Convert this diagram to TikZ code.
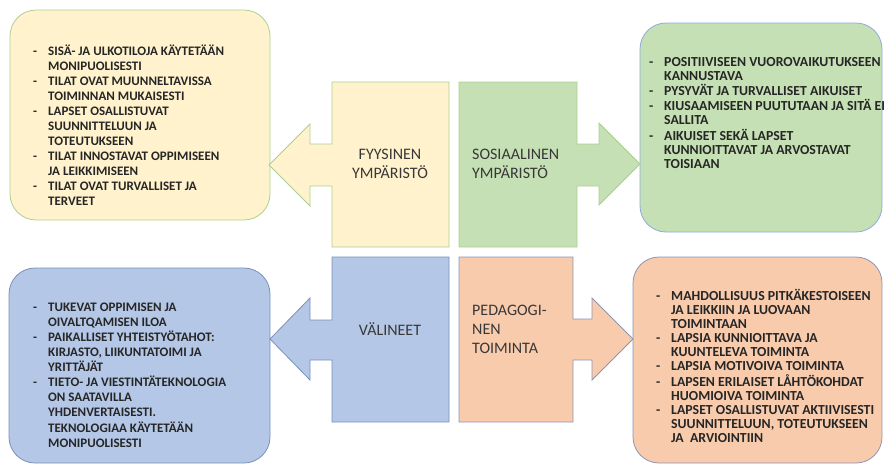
\documentclass[tikz,border=0pt]{standalone}
\usepackage{fontspec}
\setmainfont{Carlito}
\usepackage{array}

\definecolor{ylwfill}{HTML}{FFF2CC}
\definecolor{grnfill}{HTML}{C5E0B4}
\definecolor{blufill}{HTML}{B4C7E7}
\definecolor{orgfill}{HTML}{F8CBAD}
\definecolor{grnline}{HTML}{A9D18E}
\definecolor{bluline}{HTML}{8FAADC}
\definecolor{greyline}{HTML}{8E95B4}

\tikzset{
    part/.style={line width=0.8pt, line join=miter},
    callout/.style={draw, line width=0.8pt, rounded corners=26pt},
    head/.style={inner sep=0pt, text=black!78,
        font=\fontsize{16}{19}\selectfont},
    info/.style={inner sep=0pt, anchor=north west, text=black!85,
        font=\bfseries\fontsize{13}{15}\selectfont},
    wideinfo/.style={info, font=\bfseries\fontsize{13.8}{14}\selectfont}
}
\newcommand{\dashlist}[1]{\begin{tabular}{@{}p{15pt}@{}l@{}}#1\end{tabular}}

\begin{document}
\begin{tikzpicture}[x=1pt,y=-1pt]
    \useasboundingbox (0,0) rectangle (887,475);

    % callout boxes
    \draw[callout, fill=ylwfill, draw=grnline] (10,10) rectangle (270,220);
    \draw[callout, fill=grnfill, draw=bluline] (640,23) rectangle (882,232);
    \draw[callout, fill=blufill, draw=bluline!85!black] (9,268) rectangle (270,463);
    \draw[callout, fill=orgfill, draw=greyline] (633,257) rectangle (882,463);

    % the four parts with their arrows
    \draw[part, fill=ylwfill, draw=grnline] (449,82) -- (332,82) -- (332,144)
        -- (310,144) -- (310,124) -- (269,165) -- (310,206) -- (310,186)
        -- (332,186) -- (332,247) -- (449,247) -- cycle;
    \draw[part, fill=grnfill, draw=grnline] (459,82) -- (577,82) -- (577,144)
        -- (599,144) -- (599,123) -- (640,164) -- (599,205) -- (599,186)
        -- (577,186) -- (577,247) -- (459,247) -- cycle;
    \draw[part, fill=blufill, draw=bluline!85!black] (449,257) -- (332,257) -- (332,320)
        -- (310,320) -- (310,298) -- (270,339) -- (310,380) -- (310,360)
        -- (332,360) -- (332,422) -- (449,422) -- cycle;
    \draw[part, fill=orgfill, draw=greyline] (459,257) -- (573,257) -- (573,319)
        -- (592,319) -- (592,298) -- (633,339) -- (592,380) -- (592,360)
        -- (573,360) -- (573,422) -- (459,422) -- cycle;

    % part names
    \node[head, align=center] (fys) at (390,164) {FYYSINEN\\YMPÄRISTÖ};
    \node[head, align=left, anchor=west] (sos) at (472,164) {SOSIAALINEN\\YMPÄRISTÖ};
    \node[head] (val) at (390,329) {VÄLINEET};
    \node[head, align=left, anchor=west] (ped) at (472,329) {PEDAGOGI-\\NEN\\TOIMINTA};

    % lists
    \node[info] (fyslist) at (33,45) {\dashlist{
        - & SISÄ- JA ULKOTILOJA KÄYTETÄÄN\\
          & MONIPUOLISESTI\\
        - & TILAT OVAT MUUNNELTAVISSA\\
          & TOIMINNAN MUKAISESTI\\
        - & LAPSET OSALLISTUVAT\\
          & SUUNNITTELUUN JA\\
          & TOTEUTUKSEEN\\
        - & TILAT INNOSTAVAT OPPIMISEEN\\
          & JA LEIKKIMISEEN\\
        - & TILAT OVAT TURVALLISET JA\\
          & TERVEET}};
    \node[wideinfo] (soslist) at (649,56) {\dashlist{
        - & POSITIIVISEEN VUOROVAIKUTUKSEEN\\
          & KANNUSTAVA\\
        - & PYSYVÄT JA TURVALLISET AIKUISET\\
        - & KIUSAAMISEEN PUUTUTAAN JA SITÄ EI\\
          & SALLITA\\
        - & AIKUISET SEKÄ LAPSET\\
          & KUNNIOITTAVAT JA ARVOSTAVAT\\
          & TOISIAAN}};
    \node[info] (vallist) at (33,301) {\dashlist{
        - & TUKEVAT OPPIMISEN JA\\
          & OIVALTQAMISEN ILOA\\
        - & PAIKALLISET YHTEISTYÖTAHOT:\\
          & KIRJASTO, LIIKUNTATOIMI JA\\
          & YRITTÄJÄT\\
        - & TIETO- JA VIESTINTÄTEKNOLOGIA\\
          & ON SAATAVILLA\\
          & YHDENVERTAISESTI.\\
          & TEKNOLOGIAA KÄYTETÄÄN\\
          & MONIPUOLISESTI}};
    \node[wideinfo] (pedlist) at (656,289) {\dashlist{
        - & MAHDOLLISUUS PITKÄKESTOISEEN\\
          & JA LEIKKIIN JA LUOVAAN\\
          & TOIMINTAAN\\
        - & LAPSIA KUNNIOITTAVA JA\\
          & KUUNTELEVA TOIMINTA\\
        - & LAPSIA MOTIVOIVA TOIMINTA\\
        - & LAPSEN ERILAISET LÅHTÖKOHDAT\\
          & HUOMIOIVA TOIMINTA\\
        - & LAPSET OSALLISTUVAT AKTIIVISESTI\\
          & SUUNNITTELUUN, TOTEUTUKSEEN\\
          & JA\ \ ARVIOINTIIN}};
\end{tikzpicture}
\end{document}
